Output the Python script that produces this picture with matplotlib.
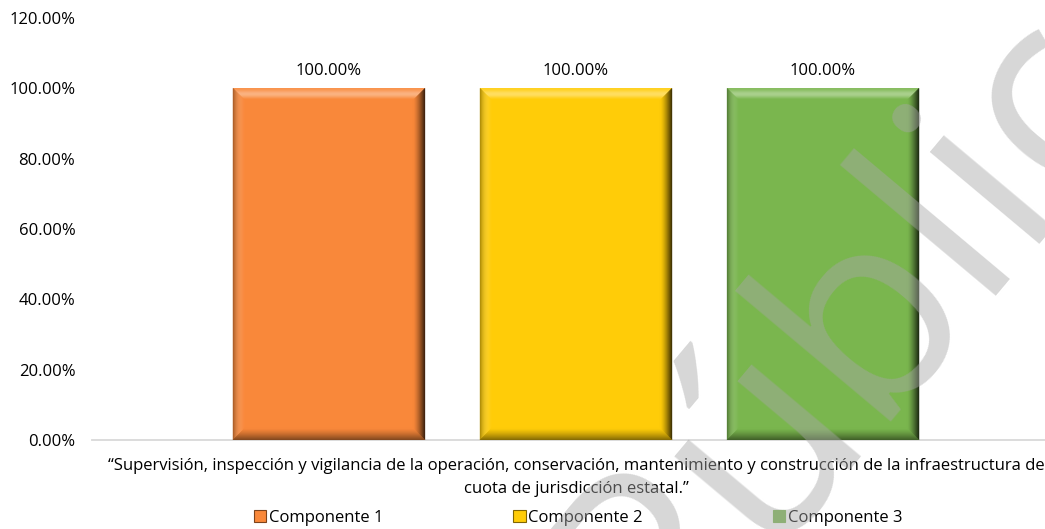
import matplotlib.pyplot as plt
import numpy as np
from matplotlib.patches import Polygon, Patch
from matplotlib.colors import to_rgb
from matplotlib.ticker import PercentFormatter

plt.rcParams['font.family'] = ['Open Sans', 'DejaVu Sans']

# data
category = ('\u201cSupervisión, inspección y vigilancia de la operación, conservación, '
            'mantenimiento y construcción de la infraestructura de\n'
            'cuota de jurisdicción estatal.\u201d')
series_names = ['Componente 1', 'Componente 2', 'Componente 3']
values = [1.00, 1.00, 1.00]
colors = ['#F9883A', '#FFCC08', '#7AB64E']
y_ticks = [0, 0.2, 0.4, 0.6, 0.8, 1.0, 1.2]


def mix(c, other, t):
    c = np.array(to_rgb(c))
    o = np.array(to_rgb(other))
    return tuple(np.clip(c * (1 - t) + o * t, 0, 1))


def bevel(ax, rect, face, bw=12, steps=12):
    # fake the excel "bevel" look with thin shaded trapezoids
    x0, y0 = rect.get_x(), rect.get_y()
    x1, y1 = x0 + rect.get_width(), y0 + rect.get_height()
    (px0, py0), (px1, py1) = ax.transData.transform([(x0, y0), (x1, y1)])
    sx = (x1 - x0) / (px1 - px0)
    sy = (y1 - y0) / (py1 - py0)
    for k in range(steps):
        a, b = bw * k / steps, bw * (k + 1) / steps
        t = (k + 0.5) / steps
        top = mix(face, 'white', 0.38 * np.sin(np.pi * t) ** 2 + 0.15 * (1 - t) ** 4)
        left = mix(mix(face, 'white', 0.12 * np.sin(np.pi * t)), 'black', 0.35 * (1 - t) ** 3)
        right = mix(face, 'black', 0.8 * (1 - t) ** 1.4)
        bottom = mix(face, 'black', 0.5 * (1 - t) ** 1.3)
        sides = [
            ([(x0 + a * sx, y1 - a * sy), (x1 - a * sx, y1 - a * sy),
              (x1 - b * sx, y1 - b * sy), (x0 + b * sx, y1 - b * sy)], top),
            ([(x0 + a * sx, y0 + a * sy), (x0 + a * sx, y1 - a * sy),
              (x0 + b * sx, y1 - b * sy), (x0 + b * sx, y0 + b * sy)], left),
            ([(x1 - a * sx, y0 + a * sy), (x1 - a * sx, y1 - a * sy),
              (x1 - b * sx, y1 - b * sy), (x1 - b * sx, y0 + b * sy)], right),
            ([(x0 + a * sx, y0 + a * sy), (x1 - a * sx, y0 + a * sy),
              (x1 - b * sx, y0 + b * sy), (x0 + b * sx, y0 + b * sy)], bottom),
        ]
        for pts, col in sides:
            ax.add_patch(Polygon(pts, closed=True, facecolor=col, edgecolor=col,
                                 lw=0.3, zorder=3))


fig = plt.figure(figsize=(10.45, 5.29), dpi=100)
ax = fig.add_axes([92 / 1045, 89 / 529, 968 / 1045, 422 / 529])

bar_w = 0.1983
step = 0.2552
offsets = [(i - 1) * step for i in range(len(series_names))]

bars = []
for off, name, val, col in zip(offsets, series_names, values, colors):
    b = ax.bar(off, val, width=bar_w, color=col, label=name, zorder=2)
    bars.append(b)

ax.set_xlim(-0.5, 0.5)
ax.set_ylim(0, 1.2)
ax.set_yticks(y_ticks)
ax.yaxis.set_major_formatter(PercentFormatter(1.0, decimals=2))
ax.set_xticks([0])
ax.set_xticklabels([category], linespacing=1.55)
ax.tick_params(axis='both', length=0, labelsize=12, colors='black')
ax.tick_params(axis='y', pad=12)
ax.tick_params(axis='x', pad=13)

for s in ['top', 'right', 'left']:
    ax.spines[s].set_visible(False)
ax.spines['bottom'].set_color('#d9d9d9')
ax.spines['bottom'].set_linewidth(1.3)

for b, col in zip(bars, colors):
    bevel(ax, b.patches[0], col)
    ax.bar_label(b, labels=['{:.2%}'.format(v) for v in b.datavalues],
                 padding=7, fontsize=12)

handles = [Patch(facecolor=c, edgecolor=mix(c, 'black', 0.5) if i < 2 else c, lw=0.8)
           for i, c in enumerate(colors)]
ax.legend(handles, series_names, loc='center', bbox_to_anchor=(486 / 968, -0.185),
          ncol=3, frameon=False, fontsize=12, handlelength=0.75, handleheight=0.75,
          handletextpad=0.15, columnspacing=7.8)

# watermark
fig.text(659 / 1045, (529 - 667) / 529, 'Público', rotation=50, rotation_mode='anchor',
         ha='left', va='baseline', fontsize=193, color='#a7a7a7', alpha=0.46, zorder=10)

fig.savefig('out.png', dpi=100)
